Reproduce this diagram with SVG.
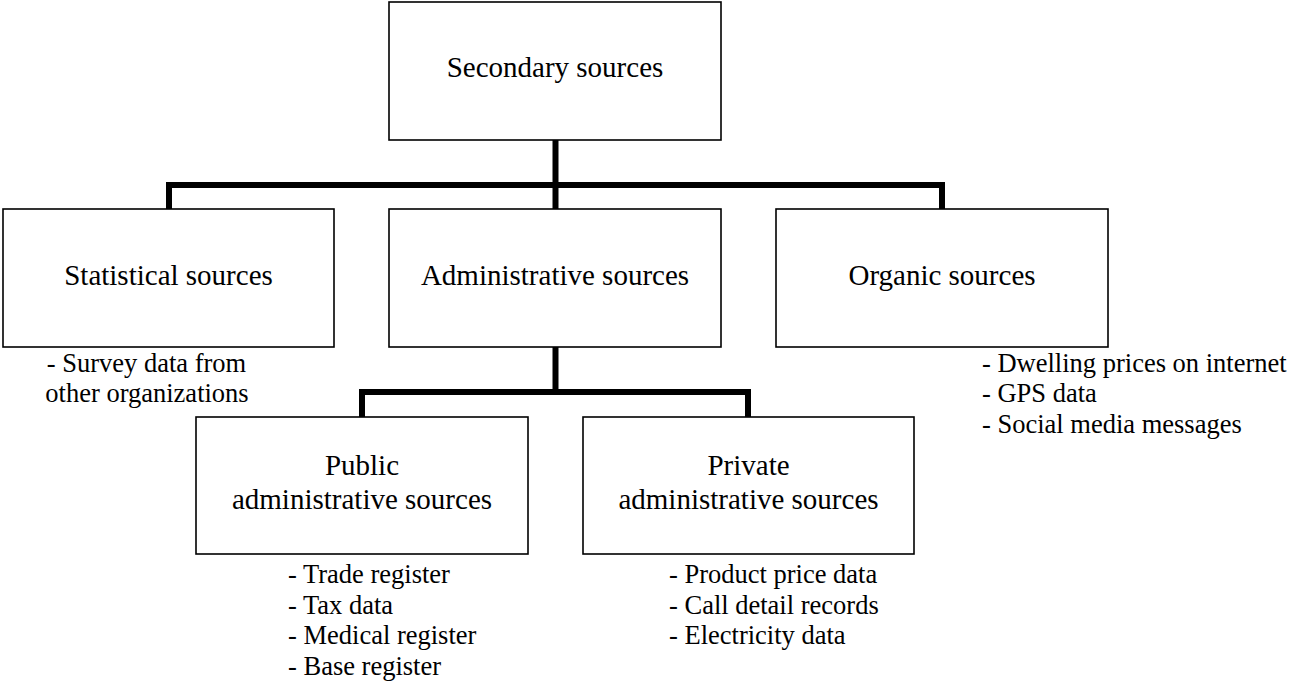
<svg xmlns="http://www.w3.org/2000/svg" width="1290" height="681" viewBox="0 0 1290 681">
<style>
.box{fill:#fff;stroke:#000;stroke-width:1.6}
.lbl{font-size:29px;fill:#000;text-anchor:middle}
.item{font-size:26.5px;fill:#000}
.conn{fill:none;stroke:#000;stroke-width:6;stroke-linejoin:miter;stroke-linecap:butt}
</style>
<rect width="1290" height="681" fill="#fff"/>
<g id="connectors">
<path class="conn" d="M555.5 140 V185"/>
<path class="conn" d="M169 209 V185 H942 V209"/>
<path class="conn" d="M555.5 185 V209"/>
<path class="conn" d="M555.5 347 V392"/>
<path class="conn" d="M362 417 V392 H748 V417"/>
</g>
<g id="nodes" font-family="Liberation Serif, Times New Roman, Times, serif">
<g id="secondary">
<rect class="box" x="389" y="2" width="332" height="138"/>
<text class="lbl" x="555" y="77">Secondary sources</text>
</g>
<g id="statistical">
<rect class="box" x="3" y="209" width="331" height="138"/>
<text class="lbl" x="168.5" y="285">Statistical sources</text>
<text class="item" x="146.5" y="372" text-anchor="middle">- Survey data from</text>
<text class="item" x="147" y="402" text-anchor="middle">other organizations</text>
</g>
<g id="administrative">
<rect class="box" x="389" y="209" width="332" height="138"/>
<text class="lbl" x="555" y="285">Administrative sources</text>
</g>
<g id="organic">
<rect class="box" x="776" y="209" width="332" height="138"/>
<text class="lbl" x="942" y="285">Organic sources</text>
<text class="item" x="982" y="372">- Dwelling prices on internet</text>
<text class="item" x="982" y="402">- GPS data</text>
<text class="item" x="982" y="433">- Social media messages</text>
</g>
<g id="public">
<rect class="box" x="196" y="417" width="332" height="137"/>
<text class="lbl" x="362" y="475">Public</text>
<text class="lbl" x="362" y="509">administrative sources</text>
<text class="item" x="288" y="583">- Trade register</text>
<text class="item" x="288" y="614">- Tax data</text>
<text class="item" x="288" y="644">- Medical register</text>
<text class="item" x="288" y="675">- Base register</text>
</g>
<g id="private">
<rect class="box" x="583" y="417" width="331" height="137"/>
<text class="lbl" x="748.5" y="475">Private</text>
<text class="lbl" x="748.5" y="509">administrative sources</text>
<text class="item" x="669" y="583">- Product price data</text>
<text class="item" x="669" y="614">- Call detail records</text>
<text class="item" x="669" y="644">- Electricity data</text>
</g>
</g>
</svg>
